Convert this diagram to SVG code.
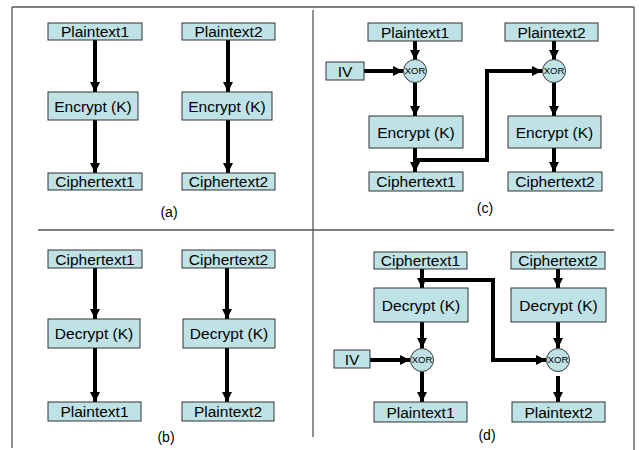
<svg xmlns="http://www.w3.org/2000/svg" width="639" height="450" viewBox="0 0 639 450">
  <style>
    .box { fill: #bee2e5; stroke: #333; stroke-width: 1; }
    .xor { fill: #bee2e5; stroke: #333; stroke-width: 1; }
    .t { font-family: "Liberation Sans", Arial, sans-serif; font-size: 15.5px; fill: #000; text-anchor: middle; }
    .tx { font-family: "Liberation Sans", Arial, sans-serif; font-size: 9.5px; fill: #000; text-anchor: middle; }
    .lbl { font-family: "Liberation Sans", Arial, sans-serif; font-size: 14px; fill: #000; text-anchor: middle; }
    .frame { stroke: #555; stroke-width: 1.3; fill: none; }
    .flow { stroke: #000; stroke-width: 4; fill: none; marker-end: url(#ah); }
  </style>
  <defs>
    <marker id="ah" viewBox="0 0 10 10" refX="10" refY="5" markerWidth="10" markerHeight="10" markerUnits="userSpaceOnUse" orient="auto">
      <path d="M0,0 L10,5 L0,10 Z" fill="#000"/>
    </marker>
  </defs>

  <!-- frame and panel dividers -->
  <g id="frame">
    <line class="frame" x1="12" y1="7" x2="634" y2="7"/>
    <line class="frame" x1="12" y1="7" x2="12" y2="448"/>
    <line class="frame" x1="634" y1="7" x2="634" y2="450"/>
    <line class="frame" x1="313" y1="10" x2="313" y2="437"/>
    <line class="frame" x1="38" y1="230" x2="614" y2="230"/>
  </g>

  <!-- connectors -->
  <g id="connectors">
    <!-- (a) -->
    <path class="flow" d="M95,40 V92"/>
    <path class="flow" d="M95,120 V173"/>
    <path class="flow" d="M228,40 V92"/>
    <path class="flow" d="M228,120 V173"/>
    <!-- (b) -->
    <path class="flow" d="M95,268 V319"/>
    <path class="flow" d="M95,348 V402"/>
    <path class="flow" d="M227,268 V319"/>
    <path class="flow" d="M227,348 V402"/>
    <!-- (c) -->
    <path class="flow" d="M415,41 V60"/>
    <path class="flow" d="M364,71 H403"/>
    <path class="flow" d="M415,83 V116"/>
    <path class="flow" d="M415,148 V172"/>
    <path class="flow" d="M415,160 H487 V71 H542"/>
    <path class="flow" d="M554,41 V60"/>
    <path class="flow" d="M554,83 V116"/>
    <path class="flow" d="M554,148 V172"/>
    <!-- (d) -->
    <path class="flow" d="M422,269 V288"/>
    <path class="flow" d="M422,280 H493 V360 H546"/>
    <path class="flow" d="M422,322 V348"/>
    <path class="flow" d="M370,360 H410"/>
    <path class="flow" d="M422,372 V402"/>
    <path class="flow" d="M558,269 V288"/>
    <path class="flow" d="M558,322 V348"/>
    <path class="flow" d="M558,376 V402"/>
  </g>

  <!-- (a) ECB encryption -->
  <g id="a-plain1"><rect class="box" x="48" y="23" width="94" height="17"/><text class="t" x="95" y="37">Plaintext1</text></g>
  <g id="a-enc1"><rect class="box" x="48" y="92" width="90" height="28"/><text class="t" x="93" y="111.5">Encrypt (K)</text></g>
  <g id="a-cipher1"><rect class="box" x="48" y="173" width="94" height="17"/><text class="t" x="95" y="187">Ciphertext1</text></g>
  <g id="a-plain2"><rect class="box" x="182" y="23" width="93" height="17"/><text class="t" x="228.5" y="37">Plaintext2</text></g>
  <g id="a-enc2"><rect class="box" x="182" y="92" width="90" height="28"/><text class="t" x="227" y="111.5">Encrypt (K)</text></g>
  <g id="a-cipher2"><rect class="box" x="182" y="173" width="93" height="17"/><text class="t" x="228.5" y="187">Ciphertext2</text></g>
  <text class="lbl" x="169" y="217">(a)</text>

  <!-- (b) ECB decryption -->
  <g id="b-cipher1"><rect class="box" x="48" y="250" width="94" height="18"/><text class="t" x="95" y="264.5">Ciphertext1</text></g>
  <g id="b-dec1"><rect class="box" x="48" y="319" width="92" height="29"/><text class="t" x="94" y="339">Decrypt (K)</text></g>
  <g id="b-plain1"><rect class="box" x="48" y="402" width="93" height="19"/><text class="t" x="94.5" y="417">Plaintext1</text></g>
  <g id="b-cipher2"><rect class="box" x="182" y="250" width="93" height="18"/><text class="t" x="228.5" y="264.5">Ciphertext2</text></g>
  <g id="b-dec2"><rect class="box" x="183" y="319" width="92" height="29"/><text class="t" x="229" y="339">Decrypt (K)</text></g>
  <g id="b-plain2"><rect class="box" x="182" y="402" width="92" height="19"/><text class="t" x="228" y="417">Plaintext2</text></g>
  <text class="lbl" x="166" y="442">(b)</text>

  <!-- (c) CBC encryption -->
  <g id="c-plain1"><rect class="box" x="368" y="23" width="94" height="18"/><text class="t" x="415" y="37.5">Plaintext1</text></g>
  <g id="c-iv"><rect class="box" x="326" y="62" width="38" height="18"/><text class="t" x="345" y="76.5">IV</text></g>
  <g id="c-xor1"><circle class="xor" cx="415" cy="71" r="11.5"/><text class="tx" x="415" y="74.4">XOR</text></g>
  <g id="c-enc1"><rect class="box" x="369" y="116" width="94" height="32"/><text class="t" x="416" y="137.5">Encrypt (K)</text></g>
  <g id="c-cipher1"><rect class="box" x="369" y="172" width="94" height="19"/><text class="t" x="416" y="187">Ciphertext1</text></g>
  <g id="c-plain2"><rect class="box" x="505" y="23" width="93" height="18"/><text class="t" x="551.5" y="37.5">Plaintext2</text></g>
  <g id="c-xor2"><circle class="xor" cx="554" cy="71" r="11.5"/><text class="tx" x="554" y="74.4">XOR</text></g>
  <g id="c-enc2"><rect class="box" x="508" y="116" width="93" height="32"/><text class="t" x="554.5" y="137.5">Encrypt (K)</text></g>
  <g id="c-cipher2"><rect class="box" x="508" y="172" width="94" height="19"/><text class="t" x="555" y="187">Ciphertext2</text></g>
  <text class="lbl" x="485" y="213">(c)</text>

  <!-- (d) CBC decryption -->
  <g id="d-cipher1"><rect class="box" x="374" y="252" width="93" height="17"/><text class="t" x="420.5" y="266">Ciphertext1</text></g>
  <g id="d-dec1"><rect class="box" x="374" y="288" width="94" height="34"/><text class="t" x="421" y="310.5">Decrypt (K)</text></g>
  <g id="d-iv"><rect class="box" x="334" y="350" width="36" height="18"/><text class="t" x="352" y="364.5">IV</text></g>
  <g id="d-xor1"><circle class="xor" cx="422" cy="360" r="11.5"/><text class="tx" x="422" y="363.4">XOR</text></g>
  <g id="d-plain1"><rect class="box" x="374" y="402" width="93" height="20"/><text class="t" x="420.5" y="417.5">Plaintext1</text></g>
  <g id="d-cipher2"><rect class="box" x="511" y="252" width="94" height="17"/><text class="t" x="558" y="266">Ciphertext2</text></g>
  <g id="d-dec2"><rect class="box" x="511" y="288" width="95" height="34"/><text class="t" x="558.5" y="310.5">Decrypt (K)</text></g>
  <g id="d-xor2"><circle class="xor" cx="558" cy="360" r="11.5"/><text class="tx" x="558" y="363.4">XOR</text></g>
  <g id="d-plain2"><rect class="box" x="512" y="402" width="93" height="20"/><text class="t" x="558.5" y="417.5">Plaintext2</text></g>
  <text class="lbl" x="487" y="440">(d)</text>
</svg>
